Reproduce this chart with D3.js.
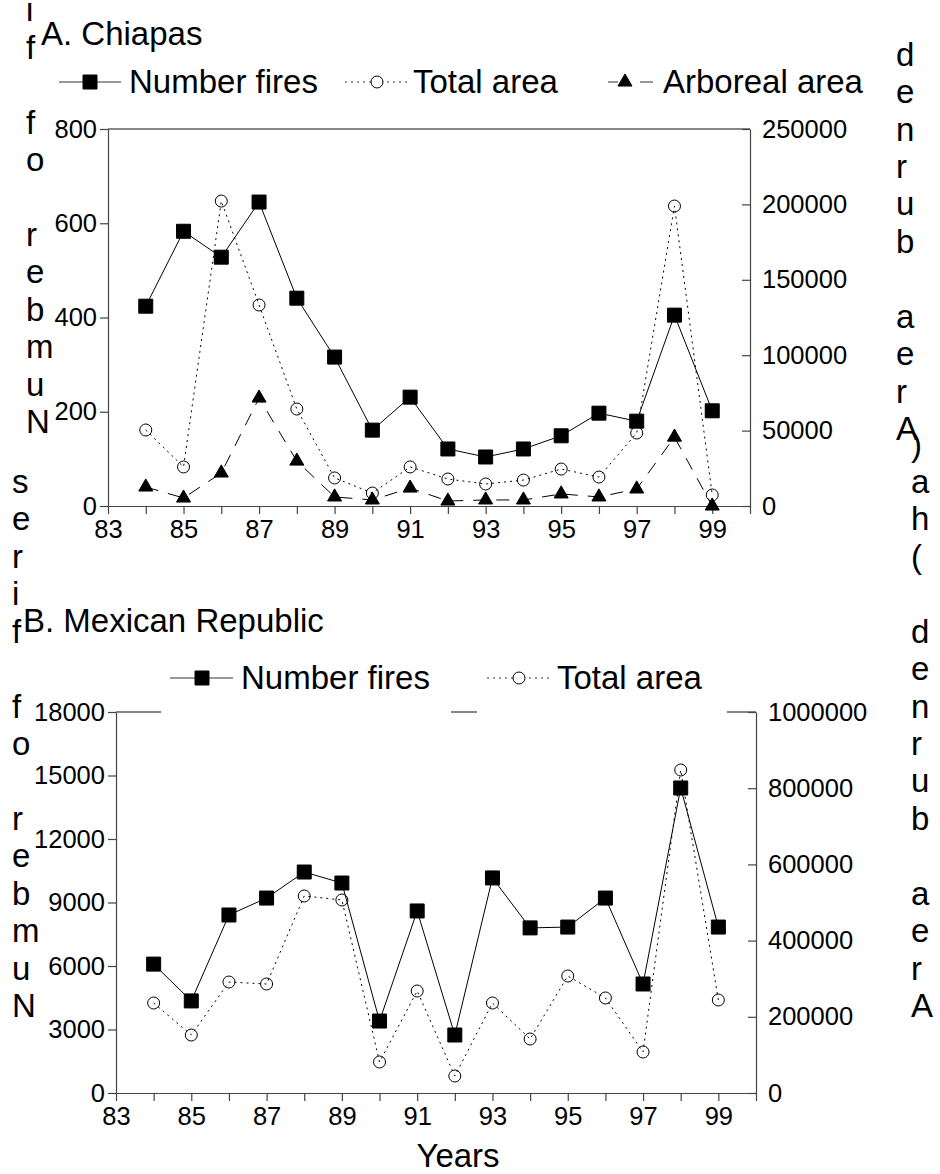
<!DOCTYPE html>
<html>
<head>
<meta charset="utf-8">
<script src="https://cdn.jsdelivr.net/npm/d3@7"></script>
<style>
  body { margin: 0; background: #fff; }
  svg { display: block; font-family: "Liberation Sans", Arial, sans-serif; }
</style>
</head>
<body>
<div class="chartHolder"></div>
<script>
// data
let years = [84, 85, 86, 87, 88, 89, 90, 91, 92, 93, 94, 95, 96, 97, 98, 99];

let chiapasFires = [424, 583, 528, 645, 441, 316, 161, 231, 121, 104, 121, 149, 197, 180, 405, 202];
let chiapasTotalArea = [50400, 25900, 202200, 133300, 64300, 18600, 8600, 25900, 17900, 14600, 17200, 24500, 19200, 48400, 198900, 7300];
let chiapasArborealArea = [12600, 5300, 21900, 71600, 29800, 6000, 4000, 11900, 3300, 4000, 4000, 8000, 6000, 11300, 45700, 0];

let mexicoFires = [6090, 4350, 8410, 9210, 10440, 9920, 3400, 8600, 2740, 10160, 7800, 7840, 9210, 5150, 14410, 7840];
let mexicoTotalArea = [236200, 152200, 291300, 286100, 517100, 506600, 81400, 267700, 44600, 236200, 141700, 307100, 249400, 107600, 847800, 244100];

let yearTicks = d3.range(83, 101);
let chiapasFireTicks = [0, 200, 400, 600, 800];
let chiapasAreaTicks = [0, 50000, 100000, 150000, 200000, 250000];
let mexicoFireTicks = [0, 3000, 6000, 9000, 12000, 15000, 18000];
let mexicoAreaTicks = [0, 200000, 400000, 600000, 800000, 1000000];

let leftTitle = "Number of fires";
let rightTitle = "Area burned (ha)";

let width = 940,
  height = 1174,
  bigFont = 33,
  tickFont = 25.5,
  lineStep = 37.43;

let svg = d3
  .select(".chartHolder")
  .append("svg")
  .attr("width", width)
  .attr("height", height);

// the axis titles come out as stacked letters in reverse order
function stackedLabel(text, x, yLast) {
  let letters = text.split("").reverse();
  let label = svg
    .append("text")
    .attr("x", x)
    .attr("y", yLast - (letters.length - 1) * lineStep)
    .attr("font-size", bigFont)
    .attr("fill", "#000");
  letters.forEach((ch, i) => {
    label
      .append("tspan")
      .attr("x", x)
      .attr("dy", i === 0 ? 0 : lineStep)
      .text(ch === " " ? "\u00a0" : ch);
  });
}

function styleAxis(g) {
  g.attr("font-size", tickFont)
    .attr("font-family", "Liberation Sans, Arial, sans-serif");
  g.selectAll("path").attr("stroke", "#444").attr("stroke-width", 1.2);
  g.selectAll("line").attr("stroke", "#444").attr("stroke-width", 1.2);
  g.selectAll("text").attr("fill", "#000");
}

function drawPanel(p) {
  let xScale = d3.scaleLinear().domain([83, 100]).range([p.left, p.right]);
  let yLeft = d3.scaleLinear().domain(p.leftDomain).range([p.bottom, p.top]);
  let yRight = d3.scaleLinear().domain(p.rightDomain).range([p.bottom, p.top]);

  // top border
  svg
    .append("line")
    .attr("x1", p.left)
    .attr("x2", p.right)
    .attr("y1", p.top)
    .attr("y2", p.top)
    .attr("stroke", "#111")
    .attr("stroke-width", 1.2);

  let xAxis = d3
    .axisBottom(xScale)
    .tickValues(yearTicks)
    .tickSize(8)
    .tickSizeOuter(0)
    .tickPadding(6)
    .tickFormat((d) => (d % 2 === 1 && d < 100 ? d : ""));
  svg
    .append("g")
    .attr("transform", "translate(0," + p.bottom + ")")
    .call(xAxis)
    .call(styleAxis);

  let leftAxis = d3
    .axisLeft(yLeft)
    .tickValues(p.leftTicks)
    .tickSize(8)
    .tickSizeOuter(0)
    .tickPadding(3)
    .tickFormat(d3.format("d"));
  svg
    .append("g")
    .attr("transform", "translate(" + p.left + ",0)")
    .call(leftAxis)
    .call(styleAxis);

  let rightAxis = d3
    .axisRight(yRight)
    .tickValues(p.rightTicks)
    .tickSize(-8)
    .tickSizeOuter(0)
    .tickPadding(12)
    .tickFormat(d3.format("d"));
  svg
    .append("g")
    .attr("transform", "translate(" + p.right + ",0)")
    .call(rightAxis)
    .call(styleAxis);

  // series
  p.series.forEach((s) => {
    let scale = s.axis === "left" ? yLeft : yRight;
    let line = d3
      .line()
      .x((d, i) => xScale(years[i]))
      .y((d) => scale(d));
    svg
      .append("path")
      .datum(s.values)
      .attr("d", line)
      .attr("fill", "none")
      .attr("stroke", "#000")
      .attr("stroke-width", 1)
      .attr("stroke-dasharray", s.dash);
    svg
      .append("g")
      .selectAll("path")
      .data(s.values)
      .enter()
      .append("path")
      .attr("transform", (d, i) => "translate(" + xScale(years[i]) + "," + scale(d) + ")")
      .attr("d", d3.symbol().type(s.symbol).size(s.size))
      .attr("fill", s.fill)
      .attr("stroke", "#000")
      .attr("stroke-width", 1);
  });

  // legend
  p.legend.forEach((item) => {
    let s = p.series[item.series];
    let g = svg.append("g");
    if (item.box) {
      g.append("rect")
        .attr("x", item.box[0])
        .attr("width", item.box[1] - item.box[0])
        .attr("y", p.legendY - 24)
        .attr("height", p.top - p.legendY + 26)
        .attr("fill", "#fff");
    }
    g.append("line")
      .attr("x1", item.line[0])
      .attr("x2", item.line[1])
      .attr("y1", p.legendY)
      .attr("y2", p.legendY)
      .attr("stroke", "#333")
      .attr("stroke-width", 1)
      .attr("stroke-dasharray", item.dash || s.dash);
    g.append("path")
      .attr("transform", "translate(" + item.marker + "," + p.legendY + ")")
      .attr("d", d3.symbol().type(s.symbol).size(s.size))
      .attr("fill", s.fill === "none" ? "#fff" : s.fill)
      .attr("stroke", "#000")
      .attr("stroke-width", 1);
    g.append("text")
      .attr("x", item.text)
      .attr("y", p.legendY + 11)
      .attr("font-size", bigFont)
      .text(s.name);
  });

  svg
    .append("text")
    .attr("x", p.titleX)
    .attr("y", p.titleY)
    .attr("font-size", bigFont)
    .text(p.title);
}

let squareSeries = { symbol: d3.symbolSquare, size: 196, fill: "#000", dash: null };
let circleSeries = { symbol: d3.symbolCircle, size: 113, fill: "none", dash: "2,4" };
let triangleSeries = { symbol: d3.symbolTriangle, size: 85, fill: "#000", dash: "13,10" };

// A. Chiapas
stackedLabel(leftTitle, 26, 433);
stackedLabel(rightTitle, 896, 440);
drawPanel({
  title: "A. Chiapas",
  titleX: 41,
  titleY: 45,
  left: 108,
  right: 750,
  top: 129,
  bottom: 506,
  leftDomain: [0, 800],
  rightDomain: [0, 250000],
  leftTicks: chiapasFireTicks,
  rightTicks: chiapasAreaTicks,
  legendY: 82,
  series: [
    Object.assign({ name: "Number fires", values: chiapasFires, axis: "left" }, squareSeries),
    Object.assign({ name: "Total area", values: chiapasTotalArea, axis: "right" }, circleSeries),
    Object.assign({ name: "Arboreal area", values: chiapasArborealArea, axis: "right" }, triangleSeries)
  ],
  legend: [
    { series: 0, line: [59, 121], marker: 90, text: 129 },
    { series: 1, line: [345, 407], marker: 377, text: 413 },
    { series: 2, line: [608, 653], marker: 625, text: 663, dash: "10,22,13" }
  ]
});

// B. Mexican Republic
stackedLabel(leftTitle, 12, 1017);
stackedLabel(rightTitle, 911, 1017);
drawPanel({
  title: "B. Mexican Republic",
  titleX: 23,
  titleY: 632,
  left: 116,
  right: 756,
  top: 712,
  bottom: 1093,
  leftDomain: [0, 18000],
  rightDomain: [0, 1000000],
  leftTicks: mexicoFireTicks,
  rightTicks: mexicoAreaTicks,
  legendY: 678,
  series: [
    Object.assign({ name: "Number fires", values: mexicoFires, axis: "left" }, squareSeries),
    Object.assign({ name: "Total area", values: mexicoTotalArea, axis: "right" }, circleSeries)
  ],
  legend: [
    { series: 0, line: [170, 233], marker: 202, text: 241, box: [161, 451] },
    { series: 1, line: [487, 550], marker: 519, text: 557, box: [477, 727] }
  ]
});

svg
  .append("text")
  .attr("x", 458)
  .attr("y", 1167)
  .attr("text-anchor", "middle")
  .attr("font-size", bigFont)
  .text("Years");
</script>
</body>
</html>
